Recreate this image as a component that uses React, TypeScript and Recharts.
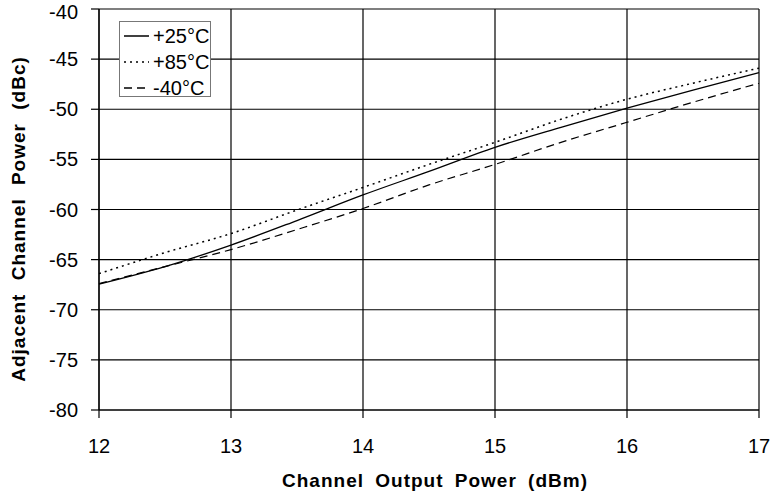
import React from 'react';
import { LineChart, Line, XAxis, YAxis, CartesianGrid } from 'recharts';

const outputPower = [12, 12.5, 13, 13.5, 14, 14.5, 15, 15.5, 16, 16.5, 17];
const acp25 = [-67.45, -65.7, -63.55, -61.1, -58.55, -56.2, -53.8, -51.8, -49.9, -48.1, -46.35];
const acp85 = [-66.4, -64.3, -62.4, -60.05, -57.8, -55.5, -53.3, -51.0, -49.0, -47.4, -45.9];
const acpm40 = [-67.4, -65.7, -64.0, -62.0, -59.9, -57.55, -55.5, -53.3, -51.3, -49.3, -47.4];
const xTicks = [12, 13, 14, 15, 16, 17];
const yTicks = [-80, -75, -70, -65, -60, -55, -50, -45, -40];
const seriesNames = ['+25°C', '+85°C', '-40°C'];

const data = outputPower.map((x, i) => ({ x, a: acp25[i], b: acp85[i], c: acpm40[i] }));

const FONT = '"Liberation Sans", Arial, sans-serif';

const styles = [
  { key: 'a', dash: undefined as string | undefined, width: 1.3 },
  { key: 'b', dash: '2 4', width: 1.5 },
  { key: 'c', dash: '8 5', width: 1.2 },
];

const LegendBox = () => (
  <div
    style={{
      position: 'absolute',
      left: 119,
      top: 21,
      width: 90,
      height: 74,
      border: '1px solid #777',
      background: '#fff',
      fontFamily: FONT,
      fontSize: 20,
      color: '#000',
    }}
  >
    {seriesNames.map((n, i) => (
      <div key={n} style={{ position: 'absolute', left: 4, top: 2 + i * 26, height: 24, display: 'flex', alignItems: 'center', whiteSpace: 'nowrap' }}>
        <svg width={26} height={10} style={{ marginRight: 3 }}>
          <line x1={0} y1={5} x2={25} y2={5} stroke="#000" strokeWidth={styles[i].width + 0.2} strokeDasharray={styles[i].dash} />
        </svg>
        <span>{n}</span>
      </div>
    ))}
  </div>
);

export default function App() {
  return (
    <div style={{ position: 'fixed', left: 0, top: 0, width: 774, height: 496, background: '#fff', overflow: 'hidden' }}>
      <LineChart width={774} height={496} data={data} margin={{ top: 9, right: 15, bottom: 0, left: 0 }}>
        <CartesianGrid stroke="#000" strokeWidth={1.2} horizontalValues={yTicks} verticalValues={xTicks} />
        <XAxis
          dataKey="x"
          type="number"
          domain={[12, 17]}
          ticks={xTicks}
          height={86}
          tickSize={8}
          tickMargin={21}
          stroke="#000"
          tickLine={{ stroke: '#000', strokeWidth: 1.2 }}
          axisLine={{ stroke: '#000', strokeWidth: 1.2 }}
          tick={{ fill: '#000', fontSize: 20, fontFamily: FONT }}
          label={{
            content: () => (
              <text x={435} y={487} textAnchor="middle" fontFamily={FONT} fontSize={19} fontWeight="bold" fill="#000" letterSpacing={1} wordSpacing={5}>
                Channel Output Power (dBm)
              </text>
            ),
          }}
        />
        <YAxis
          type="number"
          domain={[-80, -40]}
          ticks={yTicks}
          width={99}
          tickSize={8}
          tickMargin={13}
          stroke="#000"
          tickLine={{ stroke: '#000', strokeWidth: 1.2 }}
          axisLine={{ stroke: '#000', strokeWidth: 1.2 }}
          tick={{ fill: '#000', fontSize: 20, fontFamily: FONT }}
          label={{
            content: () => (
              <text x={25} y={219} transform="rotate(-90, 25, 219)" textAnchor="middle" fontFamily={FONT} fontSize={19} fontWeight="bold" fill="#000" letterSpacing={1} wordSpacing={7}>
                Adjacent Channel Power (dBc)
              </text>
            ),
          }}
        />
        {styles.map((s, i) => (
          <Line
            key={s.key}
            dataKey={s.key}
            name={seriesNames[i]}
            type="monotone"
            stroke="#000"
            strokeWidth={s.width}
            strokeDasharray={s.dash}
            dot={false}
            activeDot={false}
            isAnimationActive={false}
          />
        ))}
      </LineChart>
      <LegendBox />
    </div>
  );
}
